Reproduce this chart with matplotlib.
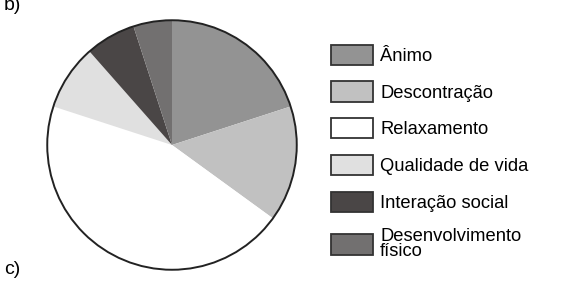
import matplotlib.pyplot as plt
from matplotlib.patches import Patch, Circle

plt.rcParams['font.family'] = ['Liberation Sans', 'DejaVu Sans']

labels = ["Ânimo", "Descontração", "Relaxamento", "Qualidade de vida",
          "Interação social", "Desenvolvimento\nfísico"]
values = [20, 15, 45, 8.5, 6.5, 5]
colors = ["#939393", "#c1c1c1", "#ffffff", "#e0e0e0", "#4a4646", "#727070"]

W, H = 570, 282
fig = plt.figure(figsize=(W / 100, H / 100), dpi=100)

# pie centre and radius in pixels
cx, cy, r = 172, 145, 126
ax = fig.add_axes([(cx - r) / W, (H - cy - r) / H, 2 * r / W, 2 * r / H])
ax.pie(values, colors=colors, startangle=90, counterclock=False,
       wedgeprops=dict(linewidth=0))
ax.add_patch(Circle((0, 0), 1, fill=False, edgecolor="#222222", linewidth=1.4))
ax.set_xlim(-1.01, 1.01)
ax.set_ylim(-1.01, 1.01)
ax.axis("off")

handles = [Patch(facecolor=c, edgecolor="#333333", linewidth=1.3) for c in colors]
leg = fig.legend(handles, labels, loc="upper left",
                 bbox_to_anchor=(316 / W, 1 - 30 / H),
                 frameon=False, fontsize=13.2,
                 handlelength=2.3, handleheight=1.32, handletextpad=0.4,
                 labelspacing=0.9, borderpad=0.3)
for t in leg.get_texts():
    t.set_linespacing(0.8)

fig.text(4 / W, 1 - 5 / H, "b)", fontsize=14, va="center", ha="left")
fig.text(4 / W, 1 - 270 / H, "c)", fontsize=14, va="center", ha="left")

fig.savefig("out.png", dpi=100)
